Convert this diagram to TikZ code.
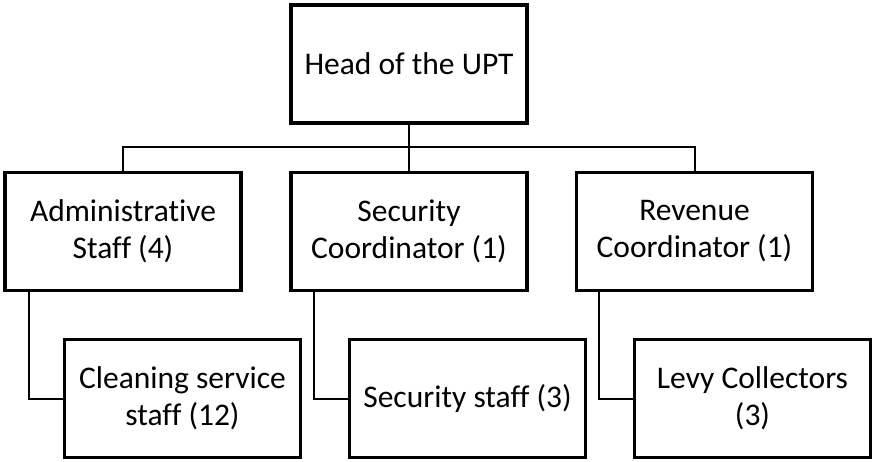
\documentclass[tikz,border=0pt]{standalone}
\usepackage{fontspec}
\setmainfont{Carlito}[Ligatures=NoCommon]
\begin{document}
\begin{tikzpicture}[x=1pt,y=-1pt,
  orgbox/.style={draw=black, line width=3.2pt, fill=white, minimum width=236pt, minimum height=118pt,
    align=center, inner sep=0pt, font=\fontsize{31.5}{37}\selectfont},
  link/.style={draw=black, line width=2pt}]
\useasboundingbox (0,0) rectangle (873,462);
\node[orgbox] (head) at (409,64) {Head of the UPT};
\node[orgbox] (admin) at (123,231.5) {Administrative\\Staff (4)};
\node[orgbox] (sec) at (409,231.5) {Security\\Coordinator (1)};
\node[orgbox] (rev) at (694.5,231.5) {Revenue\\Coordinator (1)};
\node[orgbox] (clean) at (182.5,398.5) {Cleaning service\\staff (12)};
\node[orgbox] (secst) at (467.5,398.5) {Security staff (3)};
\node[orgbox] (levy) at (752.5,398.5) {Levy Collectors\\(3)};
\coordinate (bus) at (0,147);
\draw[link] (head.south) -- (sec.north);
\draw[link] (admin.north) -- (admin.north |- bus) -- (rev.north |- bus) -- (rev.north);
\draw[link] ([xshift=-94pt]admin.south) |- (clean.west);
\draw[link] ([xshift=-95pt]sec.south) |- (secst.west);
\draw[link] ([xshift=-95.5pt]rev.south) |- (levy.west);
\end{tikzpicture}
\end{document}
